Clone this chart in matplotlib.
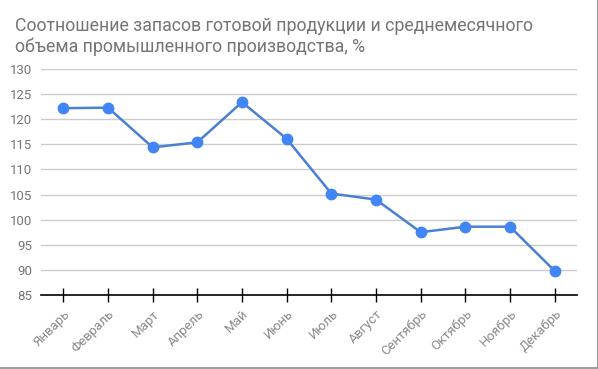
import matplotlib
matplotlib.use("Agg")
import matplotlib.pyplot as plt
from matplotlib.lines import Line2D

months = ["Январь", "Февраль", "Март", "Апрель", "Май", "Июнь",
          "Июль", "Август", "Сентябрь", "Октябрь", "Ноябрь", "Декабрь"]
values = [122.2, 122.3, 114.4, 115.4, 123.4, 116.1,
          105.2, 104.0, 97.5, 98.6, 98.6, 89.8]
yticks = [85, 90, 95, 100, 105, 110, 115, 120, 125, 130]

title = ("Соотношение запасов готовой продукции и среднемесячного\n"
         "объема промышленного производства, %")

plt.rcParams['font.family'] = ['Roboto', 'DejaVu Sans']

fig = plt.figure(figsize=(5.98, 3.69), dpi=100)
ax = fig.add_axes([41/598, 1 - 295/369, (577-41)/598, (295-69)/369])

x = list(range(len(months)))
ax.plot(x, values, color="#4a7fd6", lw=1.8, marker="o", ms=7.5,
        markerfacecolor="#4285f4", markeredgecolor="#4285f4", zorder=3)

ax.set_xlim(-0.5, len(months) - 0.5)
ax.set_ylim(85, 130)
ax.set_yticks(yticks)
ax.set_xticks(x)
ax.set_xticklabels(months, rotation=45, ha="right", rotation_mode="anchor",
                   color="#8a8a8a", fontsize=9.5)
for lab in ax.get_yticklabels():
    lab.set_color("#757575")
    lab.set_fontsize(9.5)

ax.grid(axis="y", color="#cccccc", lw=1)
ax.set_axisbelow(True)
for s in ["top", "right", "left"]:
    ax.spines[s].set_visible(False)
ax.spines["bottom"].set_color("black")
ax.spines["bottom"].set_linewidth(1.2)
ax.tick_params(axis="y", length=0, pad=6)
ax.tick_params(axis="x", direction="inout", length=10, width=1, color="black", pad=4)

fig.text(15/598, 1 - 17/369, title, ha="left", va="top", fontsize=12.8,
         color="#757575", linespacing=1.2)

# thin frame on the right and bottom of the picture
fig.add_artist(Line2D([597.5/598, 597.5/598], [0, 1], transform=fig.transFigure,
                      color="#9e9e9e", lw=1.5))
fig.add_artist(Line2D([0, 1], [1.5/369, 1.5/369], transform=fig.transFigure,
                      color="#9e9e9e", lw=1.5))

fig.savefig("out.png", dpi=100)
